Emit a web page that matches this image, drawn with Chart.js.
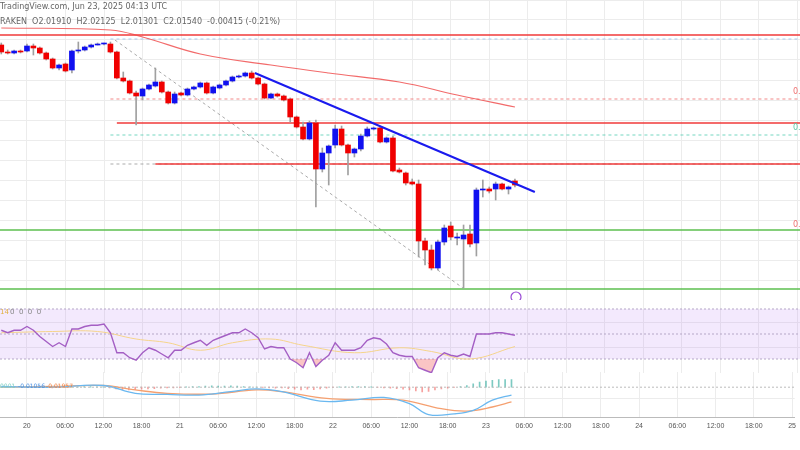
<!DOCTYPE html>
<html>
<head>
<meta charset="utf-8">
<script src="https://cdn.jsdelivr.net/npm/chart.js@4"></script>
<style>
body{margin:0;background:#fff;width:800px;height:450px;overflow:hidden;position:relative;font-family:"DejaVu Sans",sans-serif}
.pane{position:absolute;left:0;width:800px}
</style>
</head>
<body>
<div class="pane" style="top:0;height:300px"><canvas id="prix"></canvas></div>
<div class="pane" style="top:298px;height:75px"><canvas id="rsi"></canvas></div>
<div class="pane" style="top:372px;height:62px"><canvas id="macd"></canvas></div>
<script>
//bougies horaires, index 0 = 19 juin 20:00 UTC
var opens = [2.155,2.148,2.147,2.149,2.149,2.154,2.152,2.147,2.141,2.132,
2.136,2.130,2.149,2.150,2.153,2.155,2.156,2.156,2.148,2.122,
2.119,2.107,2.104,2.111,2.114,2.118,2.108,2.097,2.107,2.105,
2.111,2.113,2.117,2.107,2.112,2.115,2.119,2.123,2.124,2.127,
2.122,2.116,2.102,2.106,2.104,2.101,2.083,2.073,2.061,2.077,
2.031,2.047,2.055,2.071,2.055,2.047,2.051,2.064,2.071,2.072,
2.058,2.062,2.030,2.027,2.018,2.016,1.959,1.950,1.932,1.958,
1.974,1.962,1.961,1.966,1.957,2.010,2.011,2.011,2.016,2.011,2.019];
var highs = [2.157,2.150,2.150,2.150,2.156,2.156,2.153,2.148,2.142,2.136,
2.137,2.150,2.158,2.154,2.156,2.157,2.157,2.158,2.149,2.128,
2.120,2.109,2.112,2.116,2.132,2.119,2.109,2.108,2.108,2.112,
2.114,2.118,2.118,2.114,2.116,2.120,2.124,2.125,2.128,2.129,
2.123,2.117,2.107,2.107,2.105,2.102,2.084,2.078,2.079,2.080,
2.052,2.055,2.075,2.074,2.056,2.052,2.066,2.073,2.073,2.074,
2.063,2.064,2.032,2.028,2.021,2.020,1.962,1.955,1.960,1.975,
1.978,1.967,1.975,1.975,2.012,2.020,2.013,2.018,2.017,2.014,2.021];
var lows = [2.146,2.146,2.146,2.147,2.148,2.145,2.146,2.140,2.131,2.130,
2.128,2.127,2.147,2.149,2.152,2.155,2.155,2.147,2.121,2.118,
2.106,2.075,2.100,2.110,2.113,2.107,2.096,2.096,2.104,2.104,
2.110,2.112,2.106,2.106,2.111,2.114,2.118,2.122,2.123,2.121,
2.115,2.101,2.101,2.103,2.099,2.078,2.072,2.060,2.060,1.993,
2.028,2.015,2.052,2.054,2.025,2.043,2.049,2.063,2.070,2.057,
2.057,2.028,2.027,2.015,2.015,1.943,1.935,1.930,1.930,1.955,
1.960,1.955,1.912,1.953,1.944,2.003,2.007,2.000,2.010,2.006,2.013];
var closes = [2.148,2.147,2.149,2.148,2.154,2.152,2.147,2.141,2.132,2.135,
2.129,2.149,2.149,2.153,2.155,2.156,2.156,2.148,2.122,2.119,
2.107,2.104,2.111,2.115,2.118,2.108,2.097,2.106,2.105,2.111,
2.113,2.117,2.107,2.113,2.115,2.119,2.123,2.123,2.127,2.122,
2.116,2.102,2.106,2.104,2.100,2.083,2.073,2.061,2.077,2.031,
2.047,2.054,2.071,2.055,2.047,2.051,2.064,2.071,2.071,2.058,
2.062,2.029,2.028,2.017,2.016,1.959,1.950,1.932,1.958,1.972,
1.963,1.962,1.965,1.956,2.010,2.011,2.009,2.016,2.011,2.013,2.015];

//moyenne mobile 200 (points lus)
var smaX = [0,17,22,31,42,51,62,71,80];
var smaY = [2.172,2.170,2.163,2.146,2.135,2.127,2.118,2.105,2.093];

//niveaux horizontaux [debut, prix]
var niveauxRouges = [[-0.2,2.165],[18,2.077],[24,2.036]];
var niveauxVerts = [[-0.2,1.970],[-0.2,1.911]];
var pointilles = [[17,2.101,'rgba(240,90,90,0.7)'],[17,2.065,'rgba(60,200,170,0.7)'],[17,2.161,'rgba(120,170,230,0.6)'],[17,2.036,'rgba(150,150,150,0.8)']];
var tendance = [[39.5,2.127],[83.1,2.008]];
var diagonale = [[17.7,2.160],[71.9,1.912]];

//RSI
var rsi = [53,51,53,53,56,53,48,44,40,43,40,54,54,56,57,57,58,51,35,35,
31,29,35,39,37,34,31,37,37,41,43,45,41,45,47,49,51,51,54,51,
47,38,40,39,39,30,27,23,35,24,29,33,43,37,37,37,39,45,47,46,
42,35,33,32,32,23,21,19,31,35,33,32,34,32,50,50,50,51,51,50,49];
var rsiMaX = [0,8,15,21,26,31,36,42,47,55,62,67,73,80];
var rsiMaY = [51,52,52,46,43,37,43,46,41,35,39,36,30,40];

//MACD
var macdX = [0,8,16,21,26,31,36,40,44,50,55,60,64,67,71,74,77,80];
var macdY = [0.0004,0,0.001,-0.0036,-0.0042,-0.0046,-0.0026,-0.001,-0.0026,-0.0082,-0.0076,-0.006,-0.0096,-0.016,-0.0156,-0.0136,-0.0076,-0.0046];
var signalX = [0,8,16,21,26,33,40,44,51,58,63,69,73,77,80];
var signalY = [0,0.0004,0.001,-0.0016,-0.0036,-0.004,-0.0016,-0.0026,-0.0066,-0.0072,-0.0076,-0.0126,-0.014,-0.0116,-0.0086];
var histo = [0.0002,0.0002,0,0,0.0002,0,-0.0002,-0.0002,-0.0004,-0.0002,
-0.0002,0.0002,0.0002,0.0004,0.0004,0.0002,0,-0.0004,-0.001,-0.0014,
-0.0016,-0.0014,-0.0012,-0.001,-0.0008,-0.0006,-0.0004,-0.0004,-0.0002,0.0002,
0.0004,0.0004,0.0006,0.0008,0.0006,0.0006,0.0008,0.0006,0.0004,0.0002,
0,-0.0002,-0.0004,-0.0006,-0.0004,-0.0008,-0.0012,-0.0016,-0.0012,-0.0014,
-0.001,-0.0006,-0.0002,0.0002,0.0002,0.0004,0.0004,0.0004,0.0002,-0.0002,
-0.0004,-0.0006,-0.0008,-0.0012,-0.0016,-0.0022,-0.0028,-0.0024,-0.0016,-0.001,
-0.0006,-0.0002,0.0004,0.001,0.002,0.003,0.0036,0.004,0.0044,0.0044,0.0044];

//graduations de l'axe du temps (toutes les 6 heures)
var tickIndex = [4,10,16,22,28,34,40,46,52,58,64,70,76,82,88,94,100,106,112,118,124];
var tickLabels = ['20','06:00','12:00','18:00','21','06:00','12:00','18:00','22','06:00','12:00','18:00','23','06:00','12:00','18:00','24','06:00','12:00','18:00','25'];

var xMin = -0.2, xMax = 124.4;
var grille = '#ececec';

function axeX(showTicks){
	return {
		type:'linear', min:xMin, max:xMax, offset:false,
		afterBuildTicks: function(s){ s.ticks = tickIndex.map(function(v){return {value:v};}); },
		grid:{color:grille, drawTicks:false, offset:false},
		border:{display:showTicks, color:'#bbb'},
		ticks:{display:showTicks, autoSkip:false, maxRotation:0, padding:4, color:'#555', font:{size:7},
			callback:function(v){ var k = tickIndex.indexOf(v); return k<0 ? '' : tickLabels[k]; }}
	};
}

function ligne(points,couleur,largeur,tirets,ordre){
	return {type:'line', data:points.map(function(p){return {x:p[0],y:p[1]};}),
		borderColor:couleur, borderWidth:largeur, borderDash:tirets||[], pointRadius:0, fill:false, order:ordre};
}

var idx = opens.map(function(v,i){return i;});
var couleurs = idx.map(function(i){ return closes[i]>=opens[i] ? '#1010f0' : '#f00000'; });

var datasetsPrix = [];
datasetsPrix.push({type:'bar', data:idx.map(function(i){return {x:i,y:[lows[i],highs[i]]};}),
	backgroundColor:'#a0a0a0', barThickness:1, grouped:false, order:3});
datasetsPrix.push({type:'bar', data:idx.map(function(i){return {x:i,y:[opens[i],closes[i]]};}),
	backgroundColor:couleurs, barThickness:5, minBarLength:1, grouped:false, order:2});
datasetsPrix.push({type:'line', data:smaX.map(function(x,k){return {x:x,y:smaY[k]};}),
	borderColor:'rgba(240,80,80,0.85)', borderWidth:1.2, pointRadius:0, tension:0.4, order:4});
niveauxRouges.forEach(function(n){ datasetsPrix.push(ligne([[n[0],n[1]],[xMax,n[1]]],'#f03a3a',1.3,null,5)); });
niveauxVerts.forEach(function(n){ datasetsPrix.push(ligne([[n[0],n[1]],[xMax,n[1]]],'#5cbf4f',1.3,null,5)); });
pointilles.forEach(function(n){ datasetsPrix.push(ligne([[n[0],n[1]],[xMax,n[1]]],n[2],1,[3,3],6)); });
datasetsPrix.push(ligne(diagonale,'#aaaaaa',1,[3,3],6));
datasetsPrix.push(ligne(tendance,'#1a1aee',2,null,0));

var entete = {
	id:'entete',
	afterDraw:function(c){
		var ctx = c.ctx; ctx.save();
		ctx.font = '8px "DejaVu Sans"'; ctx.fillStyle = '#666'; ctx.textBaseline='middle';
		ctx.fillText('TradingView.com, Jun 23, 2025 04:13 UTC', 0, 7);
		ctx.fillText('RAKEN  O2.01910  H2.02125  L2.01301  C2.01540  -0.00415 (-0.21%)', 0, 22);
		var y = c.scales.y;
		ctx.fillStyle='#f07070'; ctx.fillText('0.', 793, y.getPixelForValue(2.108));
		ctx.fillStyle='#5cc9a8'; ctx.fillText('0.', 793, y.getPixelForValue(2.072));
		ctx.fillStyle='#f07070'; ctx.fillText('0.', 793, y.getPixelForValue(1.975));
		ctx.strokeStyle='#9b4fd6'; ctx.lineWidth=1.2; ctx.beginPath(); ctx.arc(516,297,5,0,Math.PI*2); ctx.stroke();
		ctx.restore();
	}
};

new Chart(document.getElementById('prix'),{
	data:{datasets:datasetsPrix},
	options:{responsive:true, maintainAspectRatio:false, animation:false, layout:{padding:0},
		plugins:{legend:{display:false}, tooltip:{enabled:false}},
		scales:{x:axeX(false), y:{min:1.9, max:2.2, ticks:{display:false, stepSize:0.02}, grid:{color:grille, drawTicks:false}, border:{display:false}}}},
	plugins:[entete]
});

var bandeRsi = {
	id:'bande',
	beforeDatasetsDraw:function(c){
		var ctx=c.ctx, y=c.scales.y, a=c.chartArea; ctx.save();
		var y70=y.getPixelForValue(70), y30=y.getPixelForValue(30), y50=y.getPixelForValue(50);
		ctx.fillStyle='rgba(180,120,240,0.16)'; ctx.fillRect(a.left,y70,a.right-a.left,y30-y70);
		ctx.strokeStyle='#b5a7c7'; ctx.setLineDash([2,2]); ctx.lineWidth=1;
		[y70,y50,y30].forEach(function(p){ctx.beginPath();ctx.moveTo(a.left,p);ctx.lineTo(a.right,p);ctx.stroke();});
		ctx.setLineDash([]); ctx.font='7px "DejaVu Sans"'; ctx.fillStyle='#e0b040'; ctx.fillText('14',0,16);
		ctx.fillStyle='#888'; ctx.fillText('0  0  0  0',10,16);
		ctx.restore();
	}
};

new Chart(document.getElementById('rsi'),{
	data:{datasets:[
		{type:'line', data:idx.map(function(i){return {x:i,y:rsi[i]};}), borderColor:'#a45fc4', borderWidth:1.4, pointRadius:0,
			fill:{target:{value:30}, above:'rgba(0,0,0,0)', below:'rgba(240,90,90,0.35)'}},
		{type:'line', data:rsiMaX.map(function(x,k){return {x:x,y:rsiMaY[k]};}), borderColor:'#f5d48a', borderWidth:1, pointRadius:0, tension:0.4}
	]},
	options:{responsive:true, maintainAspectRatio:false, animation:false, layout:{padding:0},
		plugins:{legend:{display:false}, tooltip:{enabled:false}},
		scales:{x:axeX(false), y:{min:18.8, max:78.8, afterBuildTicks:function(s){s.ticks=[{value:39.6},{value:59.6}];},
			ticks:{display:false}, grid:{color:grille, drawTicks:false}, border:{display:false}}}},
	plugins:[bandeRsi]
});

var etiquettesMacd = {
	id:'etiq',
	afterDraw:function(c){
		var ctx=c.ctx, y=c.scales.y, a=c.chartArea; ctx.save();
		ctx.strokeStyle='#bbb'; ctx.setLineDash([2,2]); ctx.beginPath();
		ctx.moveTo(a.left,y.getPixelForValue(0)); ctx.lineTo(a.right,y.getPixelForValue(0)); ctx.stroke();
		ctx.font='6px "DejaVu Sans"'; ctx.textBaseline='middle';
		ctx.fillStyle='#7fcfc0'; ctx.fillText('0001',0,14);
		ctx.fillStyle='#4a90e2'; ctx.fillText('-0.01056',18,14);
		ctx.fillStyle='#f08040'; ctx.fillText('-0.01957',46,14);
		ctx.restore();
	}
};

new Chart(document.getElementById('macd'),{
	data:{datasets:[
		{type:'bar', data:idx.map(function(i){return {x:i,y:histo[i]};}), barThickness:1, grouped:false,
			backgroundColor:histo.map(function(v){return v>=0 ? 'rgba(38,166,154,0.6)' : 'rgba(239,83,80,0.55)';}), order:3},
		{type:'line', data:macdX.map(function(x,k){return {x:x,y:macdY[k]};}), borderColor:'#6ab8f0', borderWidth:1.3, pointRadius:0, tension:0.4, order:1},
		{type:'line', data:signalX.map(function(x,k){return {x:x,y:signalY[k]};}), borderColor:'#f5a070', borderWidth:1.3, pointRadius:0, tension:0.4, order:2}
	]},
	options:{responsive:true, maintainAspectRatio:false, animation:false, layout:{padding:0},
		plugins:{legend:{display:false}, tooltip:{enabled:false}},
		scales:{x:axeX(true), y:{min:-0.0178, max:0.0089, afterBuildTicks:function(s){s.ticks=[{value:-0.0065}];},
			ticks:{display:false}, grid:{color:grille, drawTicks:false}, border:{display:false}}}},
	plugins:[etiquettesMacd]
});
</script>
</body>
</html>
